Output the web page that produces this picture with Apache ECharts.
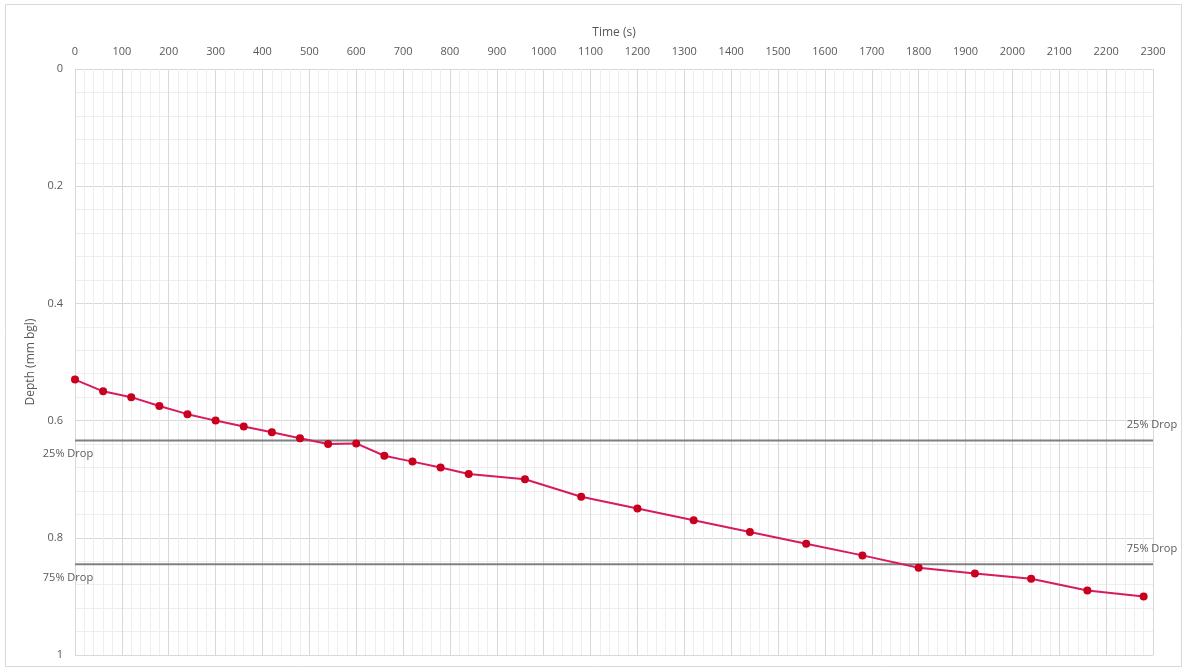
<!DOCTYPE html>
<html>
<head>
<meta charset="utf-8">
<script src="https://cdn.jsdelivr.net/npm/echarts@6/dist/echarts.min.js"></script>
<style>
html,body{margin:0;padding:0;background:#fff;}
#c{width:1183px;height:670px;}
</style>
</head>
<body>
<div id="c"></div>
<script>
const times = [0,60,120,180,240,300,360,420,480,540,600,660,720,780,840,960,1080,1200,1320,1440,1560,1680,1800,1920,2040,2160,2280];
const depths = [0.530,0.550,0.560,0.575,0.589,0.600,0.610,0.620,0.630,0.640,0.639,0.660,0.670,0.680,0.691,0.700,0.730,0.750,0.770,0.790,0.810,0.830,0.851,0.861,0.870,0.890,0.900];
const dropNames = ['25% Drop','75% Drop'];
const dropLevels = [0.634,0.845];
const dropX = [0,2300];
const xTitle = 'Time (s)';
const yTitle = 'Depth (mm bgl)';

const font = '"Open Sans", "Liberation Sans", sans-serif';
const txt = '#595959';

const chart = echarts.init(document.getElementById('c'));
const dropSeries = dropLevels.map((lv, i) => ({
  type: 'line',
  name: dropNames[i],
  data: [
    {value:[dropX[0], lv], label:{show:true, position:[-6, 9], align:'center', verticalAlign:'top'}},
    {value:[dropX[1], lv], label:{show:true, position:[0, -9], align:'center', verticalAlign:'bottom'}}
  ],
  symbol: 'circle',
  symbolSize: 2,
  showSymbol: true,
  showAllSymbol: true,
  clip: false,
  itemStyle: {color: 'rgba(128,128,128,0)', borderWidth: 0},
  lineStyle: {color:'#808080', width:2},
  label: {show:true, formatter: () => dropNames[i], color:txt, fontFamily:font, fontSize:11},
  labelLayout: {hideOverlap:false},
  silent: true,
  animation: false,
  z: 1
}));

chart.setOption({
  animation: false,
  grid: {left:75, right:30, top:69, bottom:15, containLabel:false},
  graphic: [{type:'rect', shape:{x:5.5, y:4.5, width:1176, height:662}, style:{fill:'none', stroke:'#d9d9d9', lineWidth:1}, silent:true, z:-10}],
  xAxis: {
    type:'value', position:'top', min:0, max:2300, interval:100,
    name:xTitle, nameLocation:'middle', nameGap:36,
    nameTextStyle:{color:txt, fontFamily:font, fontSize:12, verticalAlign:'middle'},
    axisLine:{show:false}, axisTick:{show:false},
    axisLabel:{color:txt, fontFamily:font, fontSize:11, margin:12, formatter: v => String(v)},
    splitLine:{show:true, lineStyle:{color:'#d9d9d9', width:1}},
    minorTick:{show:false, splitNumber:5},
    minorSplitLine:{show:true, lineStyle:{color:'#eeeeee', width:1}}
  },
  yAxis: {
    type:'value', inverse:true, min:0, max:1, interval:0.2,
    name:yTitle, nameLocation:'middle', nameGap:34, nameRotate:90,
    nameTextStyle:{color:txt, fontFamily:font, fontSize:12, verticalAlign:'middle'},
    axisLine:{show:false}, axisTick:{show:false},
    axisLabel:{color:txt, fontFamily:font, fontSize:11, margin:12},
    splitLine:{show:true, lineStyle:{color:'#d9d9d9', width:1}},
    minorTick:{show:false, splitNumber:5},
    minorSplitLine:{show:true, lineStyle:{color:'#eeeeee', width:1}}
  },
  series: [
    ...dropSeries,
    {
      type:'line', name:'Depth',
      data: times.map((t,i)=>[t, depths[i]]),
      symbol:'circle', symbolSize:8,
      lineStyle:{color:'#D81B60', width:2},
      itemStyle:{color:'#C8001E', borderWidth:0},
      z:3
    }
  ]
});
</script>
</body>
</html>
